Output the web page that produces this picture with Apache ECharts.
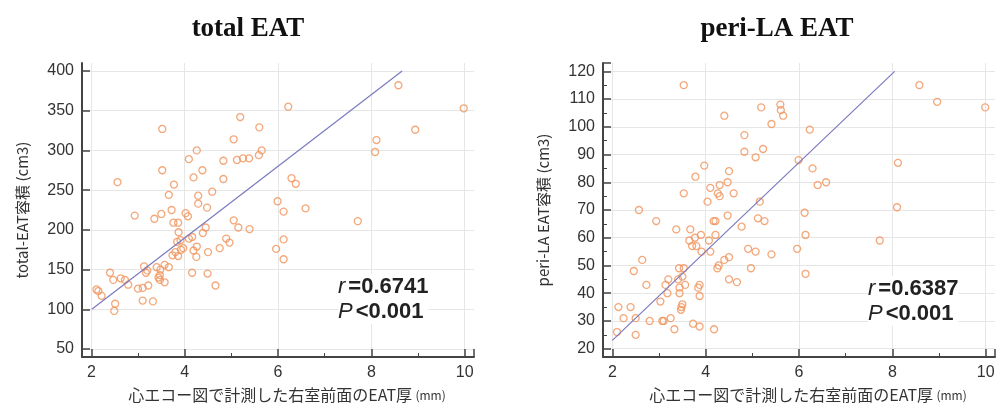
<!DOCTYPE html>
<html>
<head>
<meta charset="utf-8">
<script src="https://cdn.jsdelivr.net/npm/echarts@6/dist/echarts.min.js"></script>
<style>
  html, body { margin: 0; padding: 0; background: #fff; }
  #chart { width: 998px; height: 410px; }
</style>
</head>
<body>
<div id="chart"></div>
<script>
// 散布図のデータ (EAT厚 mm, 容積 cm3)
var totalEat = [
    [2.11, 125], [2.15, 123], [2.22, 117], [2.40, 146], [2.47, 137], [2.49, 98],
    [2.51, 107], [2.56, 260], [2.63, 139], [2.72, 137], [2.79, 131], [2.93, 218],
    [3.00, 126], [3.10, 127], [3.10, 111], [3.13, 154], [3.17, 146], [3.20, 149],
    [3.22, 130], [3.32, 110], [3.35, 214], [3.40, 153], [3.44, 140], [3.47, 143],
    [3.47, 137], [3.48, 150], [3.50, 220], [3.52, 327], [3.52, 275], [3.57, 156],
    [3.57, 134], [3.66, 153], [3.66, 244], [3.72, 225], [3.74, 168], [3.76, 209],
    [3.77, 257], [3.80, 172], [3.84, 185], [3.86, 209], [3.86, 167], [3.87, 197],
    [3.91, 187], [3.92, 175], [3.97, 177], [4.02, 221], [4.07, 217], [4.09, 289],
    [4.09, 189], [4.16, 191], [4.16, 146], [4.19, 266], [4.19, 174], [4.25, 166],
    [4.26, 300], [4.26, 179], [4.29, 243], [4.29, 233], [4.38, 275], [4.39, 196],
    [4.45, 203], [4.48, 228], [4.49, 145], [4.50, 172], [4.59, 248], [4.66, 130],
    [4.75, 177], [4.83, 287], [4.83, 264], [4.89, 189], [4.96, 184], [5.05, 314],
    [5.05, 212], [5.12, 288], [5.15, 203], [5.19, 342], [5.25, 290], [5.38, 290],
    [5.39, 201], [5.59, 294], [5.60, 329], [5.65, 300], [5.96, 176], [5.99, 236],
    [6.12, 223], [6.12, 188], [6.12, 163], [6.22, 355], [6.29, 265], [6.38, 258],
    [6.59, 227], [7.71, 211], [8.08, 298], [8.11, 313], [8.58, 382], [8.94, 326],
    [9.98, 353]
];

var periLaEat = [
    [2.10, 26], [2.13, 35], [2.24, 31], [2.39, 35], [2.46, 48], [2.50, 31],
    [2.50, 25], [2.57, 70], [2.64, 52], [2.73, 43], [2.80, 30], [2.94, 66],
    [3.03, 37], [3.07, 30], [3.10, 30], [3.14, 43], [3.18, 40], [3.20, 45],
    [3.25, 31], [3.33, 27], [3.37, 63], [3.41, 45], [3.43, 49], [3.44, 42],
    [3.44, 40], [3.47, 34], [3.48, 35], [3.50, 36], [3.50, 46], [3.53, 49],
    [3.53, 76], [3.53, 115], [3.56, 43], [3.65, 59], [3.67, 63], [3.71, 57],
    [3.73, 29], [3.77, 60], [3.78, 82], [3.80, 57], [3.84, 42], [3.87, 43],
    [3.87, 39], [3.87, 28], [3.90, 61], [3.91, 55], [3.97, 86], [4.04, 73],
    [4.07, 59], [4.10, 55], [4.10, 78], [4.17, 66], [4.18, 27], [4.21, 61],
    [4.21, 66], [4.25, 49], [4.26, 76], [4.28, 50], [4.30, 79], [4.30, 75],
    [4.40, 52], [4.40, 104], [4.47, 68], [4.47, 80], [4.50, 84], [4.50, 53],
    [4.50, 45], [4.60, 76], [4.67, 44], [4.77, 64], [4.83, 97], [4.83, 91],
    [4.91, 56], [4.97, 49], [5.07, 89], [5.07, 55], [5.12, 67], [5.16, 73],
    [5.19, 107], [5.23, 92], [5.26, 66], [5.41, 101], [5.41, 54], [5.60, 108],
    [5.61, 106], [5.66, 104], [5.96, 56], [5.99, 88], [6.12, 69], [6.14, 61],
    [6.14, 47], [6.23, 99], [6.29, 85], [6.40, 79], [6.58, 80], [7.73, 59],
    [8.10, 71], [8.12, 87], [8.58, 115], [8.96, 109], [9.99, 107]
];

// 回帰直線の両端
var totalFit = [[2.01, 100], [8.66, 400]];
var periFit = [[2.0, 23], [8.05, 120]];

var titles = ['total EAT', 'peri-LA EAT'];
var yNames = ['total-EAT容積 (cm3)', 'peri-LA EAT容積 (cm3)'];
var xName = '心エコー図で計測した右室前面のEAT厚';
var stats = [['0.6741', '<0.001'], ['0.6387', '<0.001']];

var axisColor = '#444';
var gridColor = '#e6e6e6';
var pointColor = '#f0925a';
var lineColor = '#7a7ac0';
var font = 'Liberation Sans, Arial, sans-serif';

function makeX(idx) {
    return {
        gridIndex: idx,
        type: 'value',
        min: 1.8,
        max: 10.2,
        splitNumber: 4,
        name: '{a|' + xName + '} {b|(mm)}',
        nameLocation: 'middle',
        nameGap: 30,
        nameTextStyle: {
            padding: [0, 0, 0, 18],
            rich: {
                a: { fontSize: 16, color: '#333', fontFamily: 'Noto Sans CJK JP' },
                b: { fontSize: 12, color: '#333', fontFamily: 'Noto Sans CJK JP' }
            }
        },
        axisLine: { onZero: false, lineStyle: { color: axisColor, width: 2 } },
        axisTick: { inside: true, length: 8, lineStyle: { color: axisColor, width: 1.5 } },
        minorTick: { show: true, splitNumber: 2, length: 4, lineStyle: { color: axisColor } },
        axisLabel: {
            showMinLabel: false, showMaxLabel: false,
            margin: 8, fontSize: 16, color: '#333', fontFamily: font
        },
        splitLine: { show: true, showMinLine: false, showMaxLine: false, lineStyle: { color: gridColor } }
    };
}

function makeY(idx, min, max, splitNumber, minor) {
    return {
        gridIndex: idx,
        type: 'value',
        min: min,
        max: max,
        splitNumber: splitNumber,
        name: yNames[idx],
        nameLocation: 'middle',
        nameGap: 52,
        nameTextStyle: { fontSize: 15, color: '#333', fontFamily: 'Noto Sans CJK JP' },
        axisLine: { onZero: false, lineStyle: { color: axisColor, width: 2 } },
        axisTick: { inside: true, length: 8, lineStyle: { color: axisColor, width: 1.5 } },
        minorTick: { show: minor, splitNumber: 2, length: 4, lineStyle: { color: axisColor } },
        axisLabel: {
            showMinLabel: false, showMaxLabel: false,
            margin: 8, fontSize: 16, color: '#333', fontFamily: font
        },
        splitLine: { show: true, showMinLine: false, showMaxLine: false, lineStyle: { color: gridColor } }
    };
}

function statText(x, y, s) {
    return {
        type: 'text',
        left: x,
        top: y,
        z: 100,
        style: {
            text: '{i|r}{n|=' + s[0] + '}\n{i|P}{n|<' + s[1].slice(1) + '}',
            backgroundColor: '#fff',
            rich: {
                i: { fontSize: 22, fontStyle: 'italic', fill: '#222', fontFamily: font, lineHeight: 25, padding: [0, 3, 0, 0] },
                n: { fontSize: 22, fontWeight: 'bold', fill: '#222', fontFamily: font, lineHeight: 25 }
            }
        }
    };
}

var chart = echarts.init(document.getElementById('chart'));
var option = {
    backgroundColor: '#fff',
    animation: false,
    title: [
        { text: titles[0], left: 243, top: 11, textAlign: 'center',
          textStyle: { fontSize: 27, fontWeight: 'bold', color: '#111', fontFamily: 'Liberation Serif, Times New Roman, serif' } },
        { text: titles[1], left: 772, top: 11, textAlign: 'center',
          textStyle: { fontSize: 27, fontWeight: 'bold', color: '#111', fontFamily: 'Liberation Serif, Times New Roman, serif' } }
    ],
    grid: [
        { left: 82, top: 63, width: 392, height: 294 },
        { left: 603, top: 63, width: 392, height: 294 }
    ],
    xAxis: [makeX(0), makeX(1)],
    yAxis: [makeY(0, 40, 410, 7, false), makeY(1, 17, 123, 10, true)],
    series: [
        {
            type: 'scatter', xAxisIndex: 0, yAxisIndex: 0, data: totalEat,
            symbol: 'circle', symbolSize: 7,
            itemStyle: { color: 'rgba(255,255,255,0)', borderColor: pointColor, borderWidth: 1.3 }
        },
        {
            type: 'line', xAxisIndex: 0, yAxisIndex: 0, data: totalFit,
            symbol: 'none', lineStyle: { color: lineColor, width: 1.2 }
        },
        {
            type: 'scatter', xAxisIndex: 1, yAxisIndex: 1, data: periLaEat,
            symbol: 'circle', symbolSize: 7,
            itemStyle: { color: 'rgba(255,255,255,0)', borderColor: pointColor, borderWidth: 1.3 }
        },
        {
            type: 'line', xAxisIndex: 1, yAxisIndex: 1, data: periFit,
            symbol: 'none', lineStyle: { color: lineColor, width: 1.2 }
        }
    ],
    graphic: [statText(338, 274, stats[0]), statText(868, 276, stats[1])]
};
chart.setOption(option);
</script>
</body>
</html>
